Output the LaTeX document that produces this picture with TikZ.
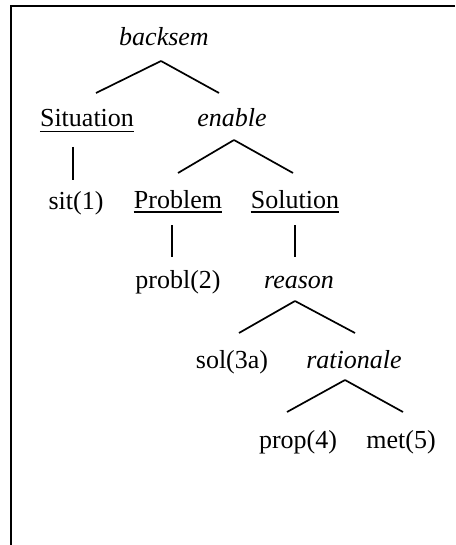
\documentclass[tikz,border=0pt]{standalone}
\usepackage{fontspec}
\setmainfont{Liberation Serif}
\begin{document}
\begin{tikzpicture}[x=1pt,y=1pt,
  lbl/.style={inner sep=0pt, anchor=base, font=\fontsize{26}{30}\selectfont},
  rel/.style={lbl, font=\fontsize{26}{30}\selectfont\itshape},
  edge/.style={line width=1.7pt},
  frame/.style={line width=2.2pt},
  ul/.style={line width=1.6pt}]
\useasboundingbox (0,0) rectangle (455,-545);
\draw[frame] (11,-545) -- (11,-6) -- (455,-6);

\node[rel] (backsem) at (164,-46) {backsem};
\node[lbl] (situation) at (87,-126.5) {Situation};
\node[rel] (enable) at (232,-126.5) {enable};
\node[lbl] (sit1) at (76,-209) {sit(1)};
\node[lbl] (problem) at (178,-208) {Problem};
\node[lbl] (solution) at (295,-208) {Solution};
\node[lbl] (probl2) at (178,-288.5) {probl(2)};
\node[rel] (reason) at (299,-288.5) {reason};
\node[lbl] (sol3a) at (232,-368.5) {sol(3a)};
\node[rel] (rationale) at (354,-368.5) {rationale};
\node[lbl] (prop4) at (298,-448.5) {prop(4)};
\node[lbl] (met5) at (401,-448.5) {met(5)};

% underlines
\draw[ul] ([yshift=-5pt]situation.base west) -- ([yshift=-5pt]situation.base east);
\draw[ul] ([yshift=-4pt]problem.base west) -- ([yshift=-4pt]problem.base east);
\draw[ul] ([yshift=-4pt]solution.base west) -- ([yshift=-4pt]solution.base east);

% tree edges
\draw[edge] ([shift={(-3,-15)}]backsem.base) -- ([shift={(9,33.5)}]situation.base);
\draw[edge] ([shift={(-3,-15)}]backsem.base) -- ([shift={(-13,33.5)}]enable.base);
\draw[edge] ([shift={(-14,-20.5)}]situation.base) -- ([shift={(-3,29)}]sit1.base);
\draw[edge] ([shift={(2,-13.5)}]enable.base) -- ([shift={(0,35)}]problem.base);
\draw[edge] ([shift={(2,-13.5)}]enable.base) -- ([shift={(-2,35)}]solution.base);
\draw[edge] ([shift={(-6,-17)}]problem.base) -- ([shift={(-6,31.5)}]probl2.base);
\draw[edge] ([shift={(0,-17)}]solution.base) -- ([shift={(-4,31.5)}]reason.base);
\draw[edge] ([shift={(-4,-12.5)}]reason.base) -- ([shift={(7,35.5)}]sol3a.base);
\draw[edge] ([shift={(-4,-12.5)}]reason.base) -- ([shift={(1,35.5)}]rationale.base);
\draw[edge] ([shift={(-9,-11.5)}]rationale.base) -- ([shift={(-11,36.5)}]prop4.base);
\draw[edge] ([shift={(-9,-11.5)}]rationale.base) -- ([shift={(2,36.5)}]met5.base);
\end{tikzpicture}
\end{document}
